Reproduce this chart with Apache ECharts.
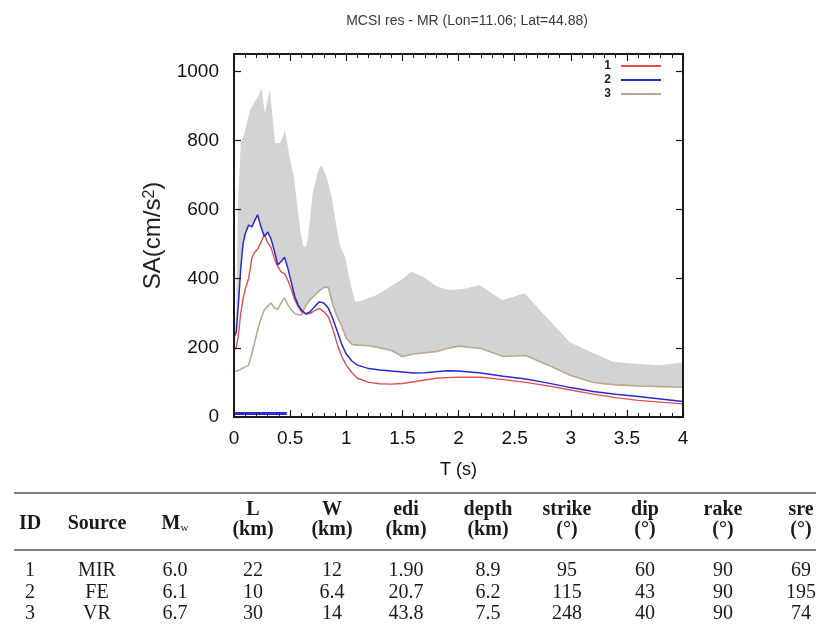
<!DOCTYPE html>
<html>
<head>
<meta charset="utf-8">
<title>MCSI res - MR</title>
<script src="https://cdn.jsdelivr.net/npm/echarts@6/dist/echarts.min.js"></script>
<style>
  html, body { margin: 0; padding: 0; background: #fff; }
  #chart { width: 816px; height: 632px; }
</style>
</head>
<body>
<div id="chart"></div>
<script>
// Spectral acceleration envelope (grey band) and the three scenario spectra
const bandPeriods = [0, 0.02, 0.035, 0.06, 0.1, 0.14, 0.19, 0.22, 0.247, 0.265, 0.276, 0.3, 0.32, 0.34,
  0.365, 0.41, 0.435, 0.454, 0.47, 0.5, 0.53, 0.558, 0.59, 0.615, 0.64, 0.66, 0.7, 0.75, 0.78,
  0.826, 0.87, 0.915, 0.944, 0.99, 1.03, 1.08, 1.15, 1.27, 1.39, 1.51, 1.58, 1.69, 1.81, 1.92,
  2.04, 2.19, 2.39, 2.59, 2.75, 2.99, 3.14, 3.38, 3.62, 3.79, 3.96, 4.0];
const bandUpper = [230, 300, 620, 790, 830, 885, 915, 930, 950, 900, 878, 920, 945, 880,
  792, 792, 810, 830, 800, 745, 700, 627, 540, 495, 490, 520, 645, 712, 730,
  694, 636, 549, 495, 463, 396, 333, 338, 353, 377, 401, 420, 405, 377, 367,
  370, 381, 338, 358, 300, 217, 194, 159, 153, 150, 156, 158];

const periods = [0, 0.02, 0.04, 0.06, 0.08, 0.1, 0.13, 0.16, 0.18, 0.21, 0.24, 0.27, 0.3, 0.33,
  0.36, 0.39, 0.42, 0.45, 0.48, 0.51, 0.54, 0.57, 0.6, 0.64, 0.68, 0.72, 0.76, 0.8, 0.84, 0.88,
  0.92, 0.96, 1.0, 1.05, 1.1, 1.2, 1.3, 1.4, 1.5, 1.6, 1.7, 1.8, 1.9, 2.0, 2.2, 2.4, 2.6, 2.8,
  3.0, 3.2, 3.4, 3.6, 3.8, 4.0];
const sa1 = [195, 200, 240, 300, 340, 370, 400, 460, 475, 485, 505, 528, 505, 490,
  458, 435, 420, 415, 395, 370, 340, 320, 305, 298, 300, 308, 314, 305, 290, 255,
  210, 175, 150, 128, 112, 100, 96, 95, 97, 102, 107, 112, 114, 115, 115, 108, 100, 90,
  78, 66, 56, 48, 43, 38];
const sa2 = [230, 245, 330, 430, 500, 530, 555, 550, 565, 585, 550, 522, 535, 515,
  480, 440, 450, 462, 430, 390, 350, 325, 310, 298, 305, 320, 333, 330, 315, 285,
  248, 210, 182, 162, 150, 140, 136, 133, 130, 127, 128, 131, 134, 133, 127, 118, 110, 98,
  85, 74, 66, 59, 52, 45];
const sa3 = [135, 132, 135, 138, 142, 145, 150, 185, 210, 250, 285, 310, 320, 330,
  315, 312, 330, 345, 325, 310, 300, 296, 295, 322, 340, 352, 365, 375, 375, 325,
  290, 262, 228, 210, 208, 206, 200, 193, 175, 182, 186, 189, 198, 205, 198, 175, 178, 150,
  120, 100, 93, 90, 88, 86];
// short trace lying on the period axis
const baseT = [0.01, 0.47];
const baseV = [10, 10];

const xTicks = [0, 0.5, 1, 1.5, 2, 2.5, 3, 3.5, 4];
const yTicks = [0, 200, 400, 600, 800, 1000];

// source parameter table
const tableIds = ['1', '2', '3'];
const tableSources = ['MIR', 'FE', 'VR'];
const tableMw = ['6.0', '6.1', '6.7'];
const tableL = ['22', '10', '30'];
const tableW = ['12', '6.4', '14'];
const tableEdi = ['1.90', '20.7', '43.8'];
const tableDepth = ['8.9', '6.2', '7.5'];
const tableStrike = ['95', '115', '248'];
const tableDip = ['60', '43', '40'];
const tableRake = ['90', '90', '90'];
const tableSre = ['69', '195', '74'];
const headTop = ['L', 'W', 'edi', 'depth', 'strike', 'dip', 'rake', 'sre'];
const headUnit = ['(km)', '(km)', '(km)', '(km)', '(°)', '(°)', '(°)', '(°)'];

const pairs = (t, v) => t.map((x, i) => [x, v[i]]);

const C1 = '#e05050', C2 = '#2a2ad2', C3 = '#bba98f';
const SANS = '"Liberation Sans", Arial, sans-serif';
const SERIF = '"Liberation Serif", "Times New Roman", serif';

const chart = echarts.init(document.getElementById('chart'), null, { renderer: 'canvas' });

const axisCommon = {
  type: 'value',
  z: 10,
  axisLine: { show: true, onZero: false, lineStyle: { color: '#1a1a1a', width: 2 } },
  splitLine: { show: false }
};

// table layout
const colX = [30, 97, 175, 253, 332, 406, 488, 567, 645, 723, 801];
const rowY = [571, 593, 614];
const graphics = [];
const txt = (s, x, y, bold) => ({
  type: 'text', z: 100,
  style: { text: s, x: x, y: y, align: 'center', verticalAlign: 'middle',
    font: (bold ? 'bold ' : '') + '20px ' + SERIF, fill: '#1a1a1a' }
});
graphics.push({ type: 'line', z: 100, shape: { x1: 14, y1: 493, x2: 816, y2: 493 },
  style: { stroke: '#555', lineWidth: 1.5 } });
graphics.push({ type: 'line', z: 100, shape: { x1: 14, y1: 550, x2: 816, y2: 550 },
  style: { stroke: '#555', lineWidth: 1.5 } });
graphics.push(txt('ID', colX[0], 524, true));
graphics.push(txt('Source', colX[1], 524, true));
graphics.push({
  type: 'text', z: 100,
  style: {
    text: '{m|M}{w|w}', x: colX[2], y: 524, align: 'center', verticalAlign: 'middle',
    rich: {
      m: { font: 'bold 20px ' + SERIF, fill: '#1a1a1a' },
      w: { font: '11px ' + SERIF, fill: '#1a1a1a', verticalAlign: 'bottom' }
    }
  }
});
headTop.forEach((h, i) => {
  graphics.push(txt(h, colX[i + 3], 510, true));
  graphics.push(txt(headUnit[i], colX[i + 3], 530, true));
});
const cols = [tableIds, tableSources, tableMw, tableL, tableW, tableEdi, tableDepth,
  tableStrike, tableDip, tableRake, tableSre];
cols.forEach((col, c) => {
  col.forEach((v, r) => graphics.push(txt(v, colX[c], rowY[r], false)));
});

chart.setOption({
  animation: false,
  backgroundColor: '#fff',
  textStyle: { fontFamily: SANS },
  title: {
    text: 'MCSI res - MR (Lon=11.06; Lat=44.88)',
    left: 462, top: 9, textAlign: 'center',
    textStyle: { fontSize: 14, fontWeight: 'normal', color: '#3a3a3a', fontFamily: SANS }
  },
  legend: {
    data: ['1', '2', '3'],
    orient: 'vertical',
    right: 150, top: 55,
    align: 'right',
    itemWidth: 40, itemHeight: 2, itemGap: 2,
    icon: 'rect',
    textStyle: { fontSize: 12, fontWeight: 'bold', color: '#222', padding: [0, 5, 0, 0], fontFamily: SANS }
  },
  grid: { left: 234, top: 54, width: 449, height: 363 },
  xAxis: [
    Object.assign({}, axisCommon, {
      position: 'bottom', min: 0, max: 4, interval: 0.5,
      axisTick: { inside: true, length: 7, lineStyle: { color: '#1a1a1a', width: 1.2 } },
      minorTick: { show: true, splitNumber: 5, length: 4, lineStyle: { color: '#1a1a1a', width: 1 } },
      axisLabel: { margin: 12, fontSize: 19, color: '#111', fontFamily: SANS,
        customValues: xTicks, formatter: v => String(v) },
      name: 'T (s)', nameLocation: 'middle', nameGap: 44,
      nameTextStyle: { fontSize: 18, color: '#111', fontFamily: SANS }
    }),
    Object.assign({}, axisCommon, {
      position: 'top', min: 0, max: 4, interval: 0.5,
      axisTick: { inside: true, length: 7, lineStyle: { color: '#1a1a1a', width: 1.2 } },
      minorTick: { show: true, splitNumber: 5, length: 4, lineStyle: { color: '#1a1a1a', width: 1 } },
      axisLabel: { show: false }
    })
  ],
  yAxis: [
    Object.assign({}, axisCommon, {
      position: 'left', min: 0, max: 1050, interval: 200,
      axisTick: { inside: true, length: 7, lineStyle: { color: '#1a1a1a', width: 1.2 },
        customValues: yTicks },
      axisLabel: { margin: 15, fontSize: 19, color: '#111', fontFamily: SANS,
        customValues: yTicks, formatter: v => String(v) },
      name: '{a|SA(cm/s}{s|2}{a|)}', nameLocation: 'middle', nameGap: 46,
      nameTextStyle: {
        color: '#222', fontFamily: SANS,
        rich: {
          a: { fontSize: 24, color: '#222', fontFamily: SANS },
          s: { fontSize: 16, color: '#222', fontFamily: SANS, verticalAlign: 'top' }
        }
      }
    }),
    Object.assign({}, axisCommon, {
      position: 'right', min: 0, max: 1050, interval: 200,
      axisTick: { inside: true, length: 7, lineStyle: { color: '#1a1a1a', width: 1.2 },
        customValues: yTicks },
      axisLabel: { show: false }
    })
  ],
  series: [
    {
      name: 'envelope', type: 'line', data: pairs(bandPeriods, bandUpper),
      symbol: 'none', silent: true, z: 1,
      lineStyle: { width: 0 }, areaStyle: { color: '#d3d3d3', opacity: 1 }
    },
    // white fill below each spectrum so the band shows only above the highest one
    { name: 'f1', type: 'line', data: pairs(periods, sa1), symbol: 'none', silent: true, z: 2,
      lineStyle: { width: 0 }, areaStyle: { color: '#fff', opacity: 1 } },
    { name: 'f2', type: 'line', data: pairs(periods, sa2), symbol: 'none', silent: true, z: 2,
      lineStyle: { width: 0 }, areaStyle: { color: '#fff', opacity: 1 } },
    { name: 'f3', type: 'line', data: pairs(periods, sa3), symbol: 'none', silent: true, z: 2,
      lineStyle: { width: 0 }, areaStyle: { color: '#fff', opacity: 1 } },
    { name: '3', type: 'line', data: pairs(periods, sa3), symbol: 'none', z: 3,
      color: C3, lineStyle: { color: C3, width: 1.6 } },
    { name: '1', type: 'line', data: pairs(periods, sa1), symbol: 'none', z: 3,
      color: C1, lineStyle: { color: C1, width: 1.4 } },
    { name: '2', type: 'line', data: pairs(periods, sa2), symbol: 'none', z: 3,
      color: C2, lineStyle: { color: C2, width: 1.5 } },
    { name: 'base', type: 'line', data: pairs(baseT, baseV), symbol: 'none', z: 4,
      lineStyle: { color: C2, width: 3 } }
  ],
  graphic: graphics
});
</script>
</body>
</html>
